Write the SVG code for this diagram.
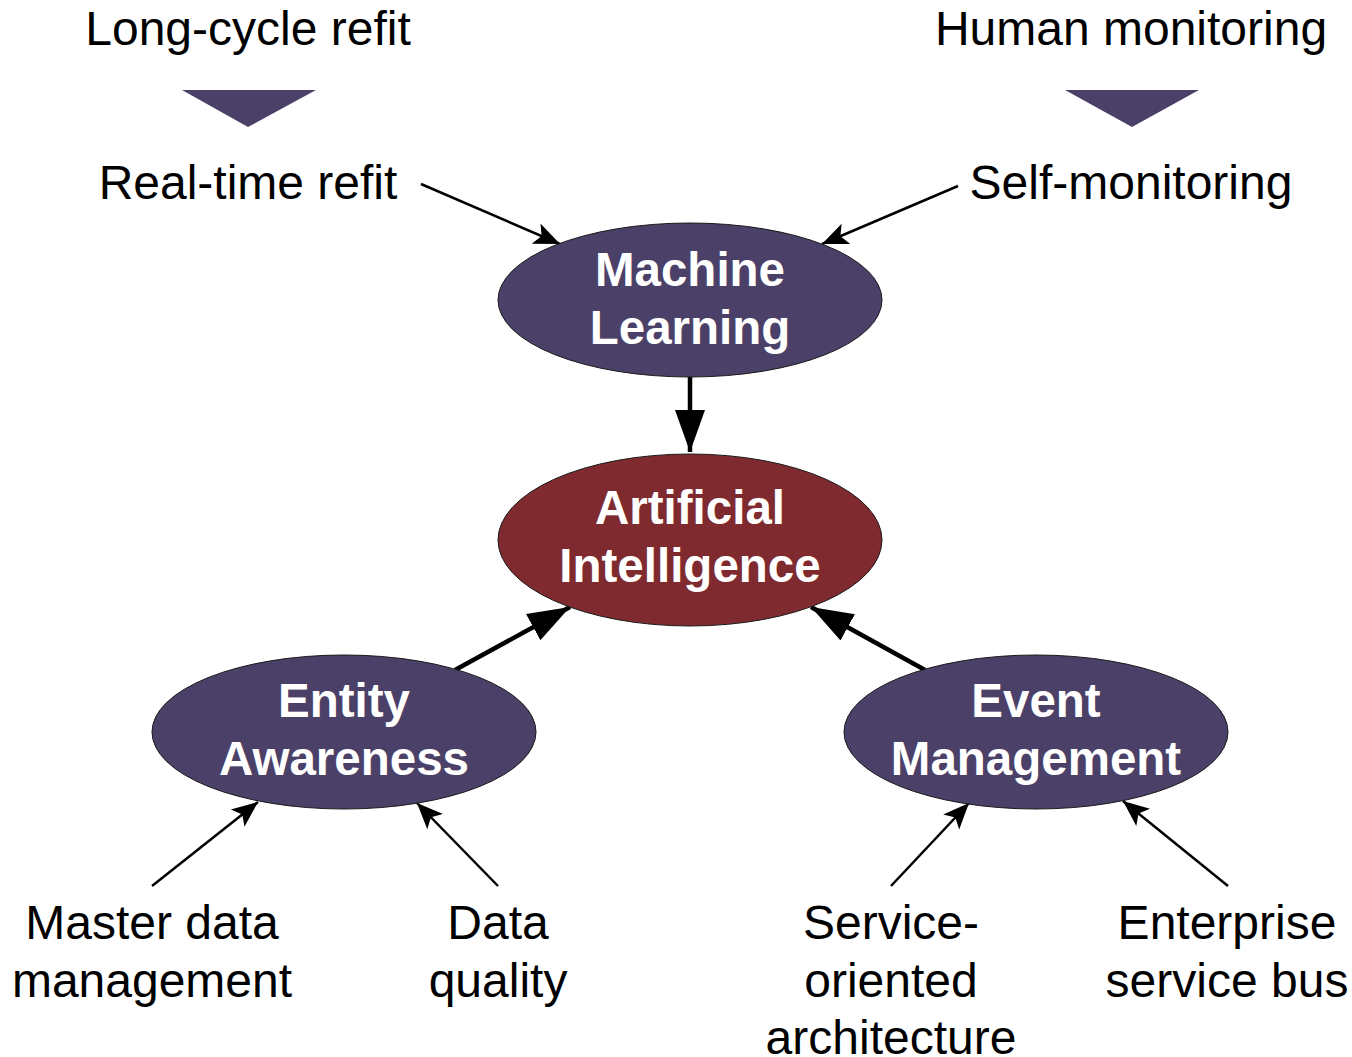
<svg xmlns="http://www.w3.org/2000/svg" width="1352" height="1057" viewBox="0 0 1352 1057">
<style>
.lbl{font-family:"Liberation Sans",Arial,sans-serif;font-size:48px;fill:#000;text-anchor:middle}
.nt{font-family:"Liberation Sans",Arial,sans-serif;font-size:47.5px;font-weight:bold;fill:#fff;text-anchor:middle}
.pur{fill:#4B4168;stroke:#1a1a1a;stroke-width:1}
.red{fill:#7F2A2E;stroke:#1a1a1a;stroke-width:1}
.thin{stroke:#000;stroke-width:2.5;fill:none;marker-end:url(#ah)}
.thick{stroke:#000;stroke-width:4.5;fill:none;marker-end:url(#ahb)}
</style>
<defs>
<marker id="ah" markerUnits="userSpaceOnUse" markerWidth="30" markerHeight="24" refX="26" refY="11" orient="auto" viewBox="0 0 30 22">
<path d="M0,0 L26,11 L0,22 L6,11 Z" fill="#000"/>
</marker>
<marker id="ahb" markerUnits="userSpaceOnUse" markerWidth="44" markerHeight="32" refX="42" refY="15" orient="auto" viewBox="0 0 44 30">
<path d="M0,0 L42,15 L0,30 Z" fill="#000"/>
</marker>
</defs>
<g id="top-left">
<text class="lbl" x="248" y="45">Long-cycle refit</text>
<polygon points="182,90 316,90 248,127" fill="#4B4168"/>
<text class="lbl" x="248" y="199">Real-time refit</text>
</g>
<g id="top-right">
<text class="lbl" x="1131" y="45">Human monitoring</text>
<polygon points="1065,90 1199,90 1132,127" fill="#4B4168"/>
<text class="lbl" x="1131" y="199">Self-monitoring</text>
</g>
<g id="connectors">
<line class="thin" x1="421" y1="184" x2="560" y2="244"/>
<line class="thin" x1="958" y1="186" x2="822" y2="244"/>
<line class="thick" x1="690" y1="377" x2="690" y2="452"/>
<line class="thick" x1="455" y1="670" x2="570" y2="607"/>
<line class="thick" x1="925" y1="670" x2="811" y2="607"/>
<line class="thin" x1="152" y1="886" x2="258" y2="802"/>
<line class="thin" x1="498" y1="886" x2="417" y2="803"/>
<line class="thin" x1="891" y1="886" x2="969" y2="803"/>
<line class="thin" x1="1228" y1="886" x2="1123" y2="801"/>
</g>
<g id="machine-learning">
<ellipse class="pur" cx="690" cy="300" rx="192" ry="77"/>
<text class="nt" x="690" y="286">Machine</text>
<text class="nt" x="690" y="344">Learning</text>
</g>
<g id="artificial-intelligence">
<ellipse class="red" cx="690" cy="540" rx="192" ry="86"/>
<text class="nt" x="690" y="524">Artificial</text>
<text class="nt" x="690" y="582">Intelligence</text>
</g>
<g id="entity-awareness">
<ellipse class="pur" cx="344" cy="732" rx="192" ry="77"/>
<text class="nt" x="344" y="717">Entity</text>
<text class="nt" x="344" y="775">Awareness</text>
</g>
<g id="event-management">
<ellipse class="pur" cx="1036" cy="732" rx="192" ry="77"/>
<text class="nt" x="1036" y="717">Event</text>
<text class="nt" x="1036" y="775">Management</text>
</g>
<g id="master-data">
<text class="lbl" x="152" y="939">Master data</text>
<text class="lbl" x="152" y="997">management</text>
</g>
<g id="data-quality">
<text class="lbl" x="498" y="939">Data</text>
<text class="lbl" x="498" y="997">quality</text>
</g>
<g id="soa">
<text class="lbl" x="891" y="939">Service-</text>
<text class="lbl" x="891" y="997">oriented</text>
<text class="lbl" x="891" y="1054">architecture</text>
</g>
<g id="esb">
<text class="lbl" x="1227" y="939">Enterprise</text>
<text class="lbl" x="1227" y="997">service bus</text>
</g>
</svg>
